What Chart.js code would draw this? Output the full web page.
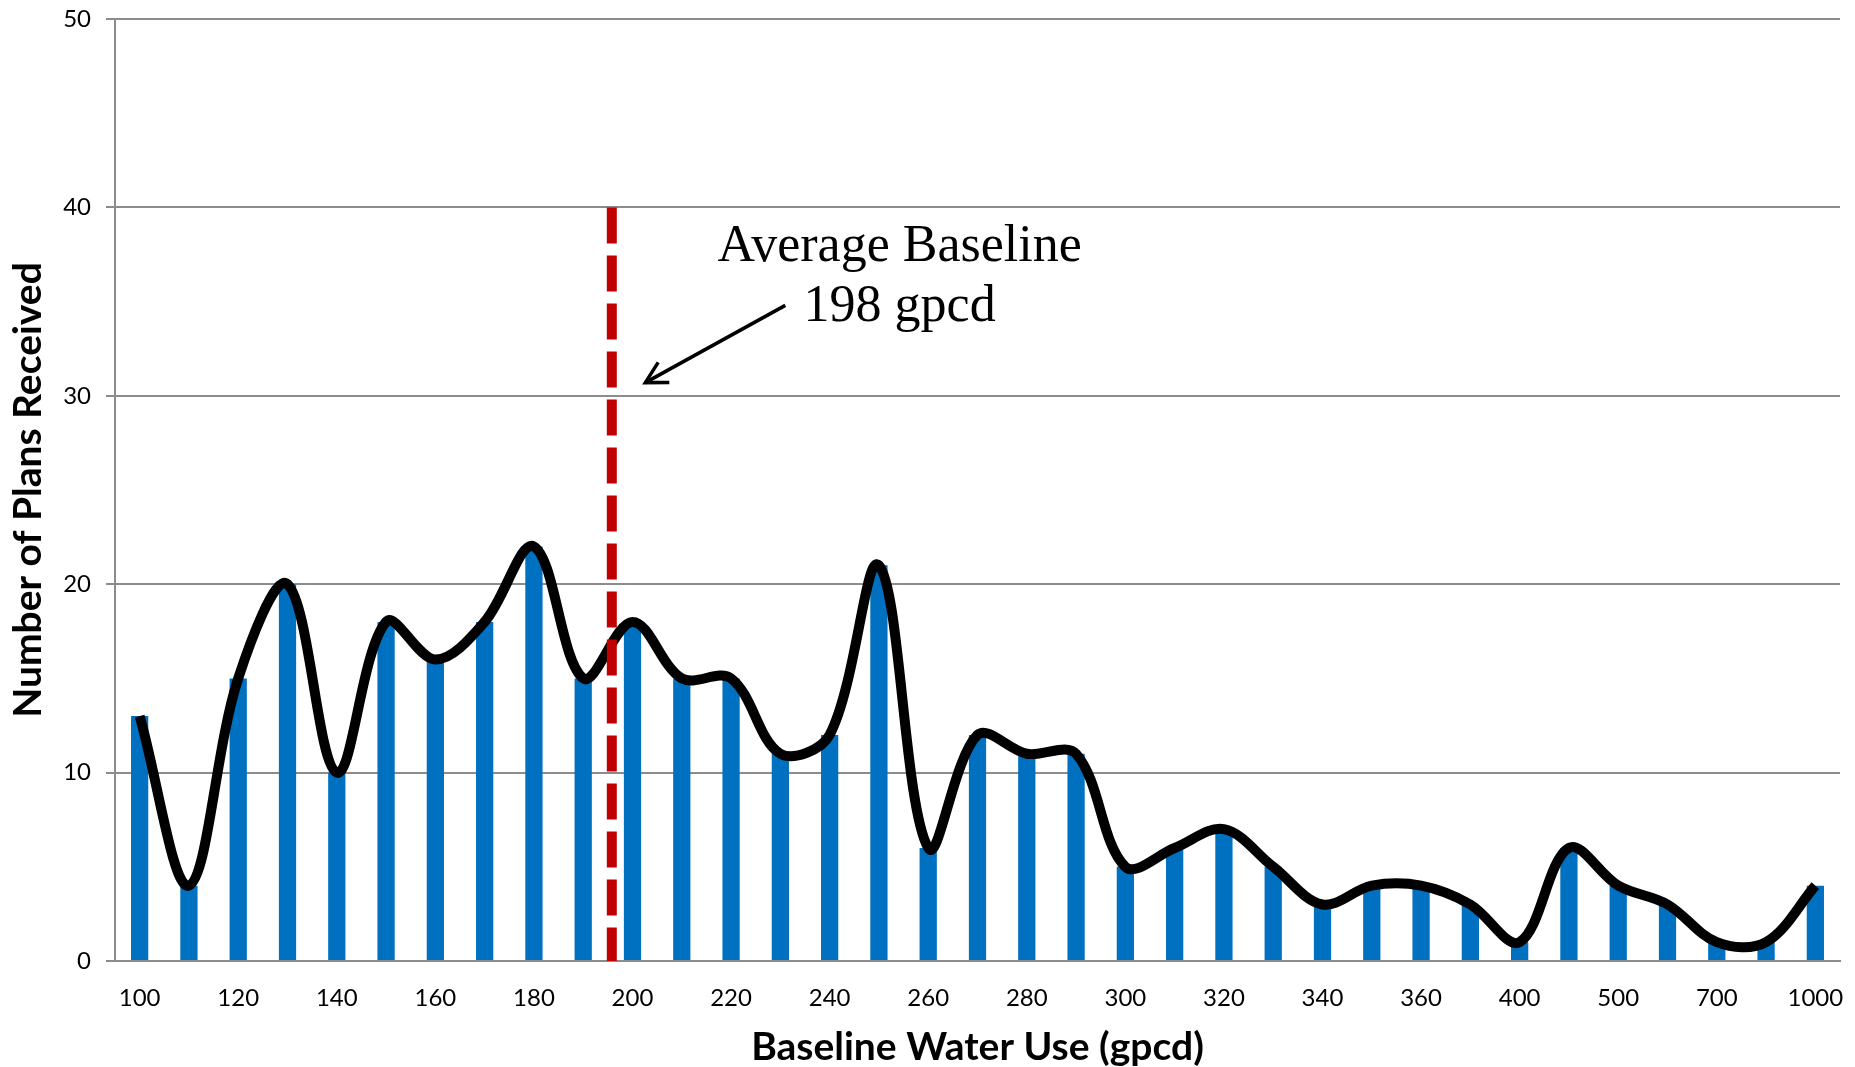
<!DOCTYPE html>
<html>
<head>
<meta charset="utf-8">
<script src="https://cdn.jsdelivr.net/npm/chart.js@4/dist/chart.umd.min.js"></script>
<style>
  body { margin: 0; background: #fff; }
  #wrap { width: 1855px; height: 1067px; }
</style>
</head>
<body>
<div id="wrap"><canvas id="BaselineChart"></canvas></div>
<script>
// Baseline water use bins (gpcd) - only every other label is printed
var categories = ['100', '110', '120', '130', '140', '150', '160', '170', '180', '190',
                  '200', '210', '220', '230', '240', '250', '260', '270', '280', '290',
                  '300', '310', '320', '330', '340', '350', '360', '370', '400', '450',
                  '500', '600', '700', '800', '1000'];
var plansReceived = [13, 4, 15, 20, 10, 18, 16, 18, 22, 15,
                     18, 15, 15, 11, 12, 21, 6, 12, 11, 11,
                     5, 6, 7, 5, 3, 4, 4, 3, 1, 6,
                     4, 3, 1, 1, 4];
var yTicks = [0, 10, 20, 30, 40, 50];
var averageBaseline = 198;
var averageLabel = ['Average Baseline', averageBaseline + ' gpcd'];
var averagePosition = 9.58;   // position of the average line on the category axis

// Red dashed average line, text and arrow
var averagePlugin = {
    id: 'averageLine',
    afterDatasetsDraw: function(chart) {
        var ctx = chart.ctx;
        var x = chart.scales.x;
        var y = chart.scales.y;
        var lx = x.getPixelForValue(averagePosition);

        ctx.save();
        ctx.strokeStyle = '#C00000';
        ctx.lineWidth = 10;
        ctx.setLineDash([36, 12]);
        ctx.beginPath();
        ctx.moveTo(lx, y.getPixelForValue(40));
        ctx.lineTo(lx, y.getPixelForValue(0));
        ctx.stroke();
        ctx.setLineDash([]);

        ctx.fillStyle = '#000';
        ctx.font = '52px "Liberation Serif"';
        ctx.textAlign = 'center';
        ctx.textBaseline = 'middle';
        ctx.fillText(averageLabel[0], x.getPixelForValue(15.42), y.getPixelForValue(37.9));
        ctx.fillText(averageLabel[1], x.getPixelForValue(15.42), y.getPixelForValue(34.7));

        // arrow
        var x1 = x.getPixelForValue(13.1), y1 = y.getPixelForValue(34.8);
        var x2 = x.getPixelForValue(10.26), y2 = y.getPixelForValue(30.7);
        ctx.strokeStyle = '#000';
        ctx.lineWidth = 3.5;
        ctx.beginPath();
        ctx.moveTo(x1, y1);
        ctx.lineTo(x2, y2);
        ctx.stroke();
        var ang = Math.atan2(y2 - y1, x2 - x1);
        var head = 24;
        ctx.beginPath();
        ctx.moveTo(x2 - head * Math.cos(ang - 0.5), y2 - head * Math.sin(ang - 0.5));
        ctx.lineTo(x2, y2);
        ctx.lineTo(x2 - head * Math.cos(ang + 0.5), y2 - head * Math.sin(ang + 0.5));
        ctx.stroke();
        ctx.restore();
    }
};

var ctx = document.getElementById('BaselineChart').getContext('2d');
var baselineChart = new Chart(ctx, {
    type: 'bar',
    data: {
        labels: categories,
        datasets: [{
            type: 'line',
            label: 'Trend',
            data: plansReceived,
            borderColor: '#000000',
            borderWidth: 10,
            tension: 0.35,
            pointRadius: 0,
            fill: false,
            order: 0
        }, {
            label: 'Plans Received',
            data: plansReceived,
            backgroundColor: '#0070C0',
            barPercentage: 0.35,
            categoryPercentage: 1.0,
            order: 1
        }]
    },
    options: {
        responsive: true,
        maintainAspectRatio: false,
        animation: false,
        layout: { padding: { top: 19, right: 15, left: 0, bottom: 0 } },
        plugins: {
            legend: { display: false },
            tooltip: { enabled: false }
        },
        scales: {
            x: {
                grid: { display: false, drawTicks: false },
                border: { display: true, color: '#8c8c8c', width: 2 },
                ticks: {
                    autoSkip: false,
                    maxRotation: 0,
                    padding: 23,
                    color: '#000',
                    font: { family: 'Lato', size: 24 },
                    callback: function(value, index) {
                        return index % 2 === 0 ? categories[index] : '';
                    }
                },
                title: {
                    display: true,
                    text: 'Baseline Water Use (gpcd)',
                    color: '#000',
                    font: { family: 'Lato', size: 39, weight: 'bold', lineHeight: 1.0 },
                    padding: { top: 0, bottom: 0 }
                },
                afterFit: function(scale) {
                    scale.height = 106;
                    scale.paddingLeft = 0;
                    scale.paddingRight = 0;
                }
            },
            y: {
                min: 0,
                max: 50,
                afterBuildTicks: function(scale) {
                    scale.ticks = yTicks.map(function(v) { return { value: v }; });
                },
                grid: { color: '#8c8c8c', lineWidth: 2, tickLength: 9 },
                border: { display: true, color: '#8c8c8c', width: 2 },
                ticks: {
                    padding: 15,
                    color: '#000',
                    font: { family: 'Lato', size: 24 }
                },
                title: {
                    display: true,
                    text: 'Number of Plans Received',
                    color: '#000',
                    font: { family: 'Lato', size: 39, weight: 'bold', lineHeight: 1.0 },
                    padding: { top: 9, bottom: 0 }
                },
                afterFit: function(scale) {
                    scale.width = 115;
                    scale.paddingTop = 0;
                    scale.paddingBottom = 0;
                }
            }
        }
    },
    plugins: [averagePlugin]
});
</script>
</body>
</html>
